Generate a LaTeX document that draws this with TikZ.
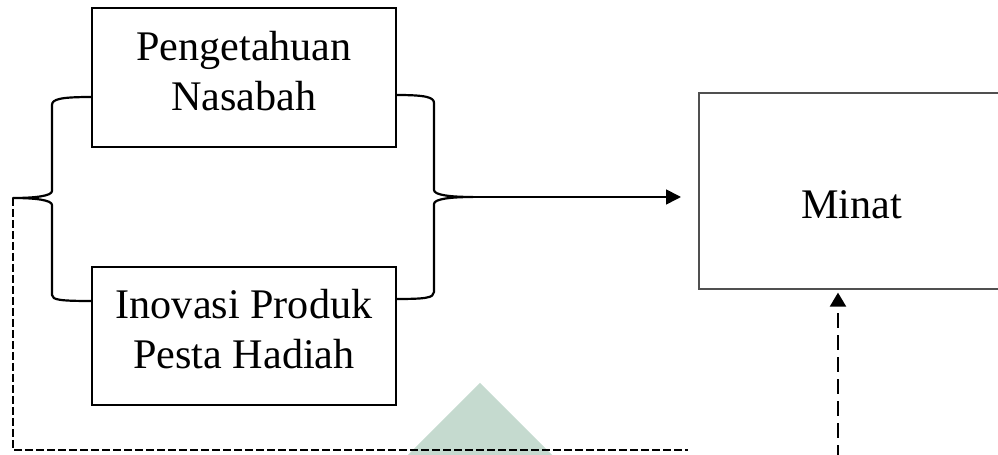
\documentclass[tikz,border=0pt]{standalone}
\usepackage{fontspec}
\setmainfont{Liberation Serif}
\usetikzlibrary{arrows.meta, positioning, calc}
\definecolor{hijau}{RGB}{197,218,207}
\definecolor{garis}{RGB}{80,80,80}

\begin{document}
\begin{tikzpicture}[
    kotak/.style={draw, line width=0.95pt, minimum width=6.08cm, minimum height=2.78cm,
                  align=center, text depth=0.28cm, font=\fontsize{24}{28.5}\selectfont},
    kurung/.style={line width=1.25pt, line join=round},
    panah/.style={-{Triangle[length=0.3cm, width=0.3cm]}, line width=0.95pt},
    putus/.style={line width=0.8pt, dash pattern=on 0.16cm off 0.06cm},
    putuspanjang/.style={-{Triangle[length=0.28cm, width=0.32cm]}, line width=1.2pt,
                         dash pattern=on 0.3cm off 0.14cm},
]
\useasboundingbox (0,0) rectangle (19.96,-9.1);

% ===== watermark =====
\fill[hijau] (9.6,-7.66) -- (11.6,-9.66) -- (7.6,-9.66) -- cycle;

% ===== kotak =====
\node[kotak] (pengetahuan) at (4.88,-1.55) {Pengetahuan\\Nasabah};
\node[kotak, minimum height=2.76cm] (inovasi) at (4.88,-6.72) {Inovasi Produk\\Pesta Hadiah};
\node[draw=garis, line width=1.2pt, anchor=north west, minimum width=6.4cm, minimum height=3.92cm,
      text width=2.32cm, inner xsep=2.04cm, align=left, text height=1.08cm, text depth=0pt,
      font=\fontsize{24}{28.5}\selectfont] (minat) at (13.96,-1.84) {Minat};

% ===== kurung kurawal =====
\coordinate (kiri)  at (0.26,-3.96);
\coordinate (kanan) at (9.46,-3.94);
\draw[kurung] (1.84,-1.94) .. controls (1.22,-1.94) and (1.04,-1.98) .. (1.04,-2.10)
    -- (1.04,-3.82) .. controls (1.04,-3.92) and (0.7,-3.96) .. (kiri)
    .. controls (0.7,-3.96) and (1.04,-4.0) .. (1.04,-4.10)
    -- (1.04,-5.90) .. controls (1.04,-6.0) and (1.22,-6.02) .. (1.84,-6.02);
\draw[kurung] (7.92,-1.90) .. controls (8.5,-1.90) and (8.68,-1.94) .. (8.68,-2.06)
    -- (8.68,-3.80) .. controls (8.68,-3.90) and (9.0,-3.94) .. (kanan)
    .. controls (9.0,-3.94) and (8.68,-3.98) .. (8.68,-4.08)
    -- (8.68,-5.84) .. controls (8.68,-5.96) and (8.5,-5.98) .. (7.92,-5.98);

% ===== panah =====
\coordinate (ujung) at (13.76,-9.0);
\coordinate (bawah) at (16.76,-9.2);
\draw[panah, shorten >=0.34cm] ([xshift=-0.42cm]kanan) -- (kanan -| minat.west);
\draw[putus] (kiri) |- (ujung);
\draw[putuspanjang, shorten >=0.05cm] (bawah) -- (bawah |- minat.south);
\end{tikzpicture}
\end{document}
